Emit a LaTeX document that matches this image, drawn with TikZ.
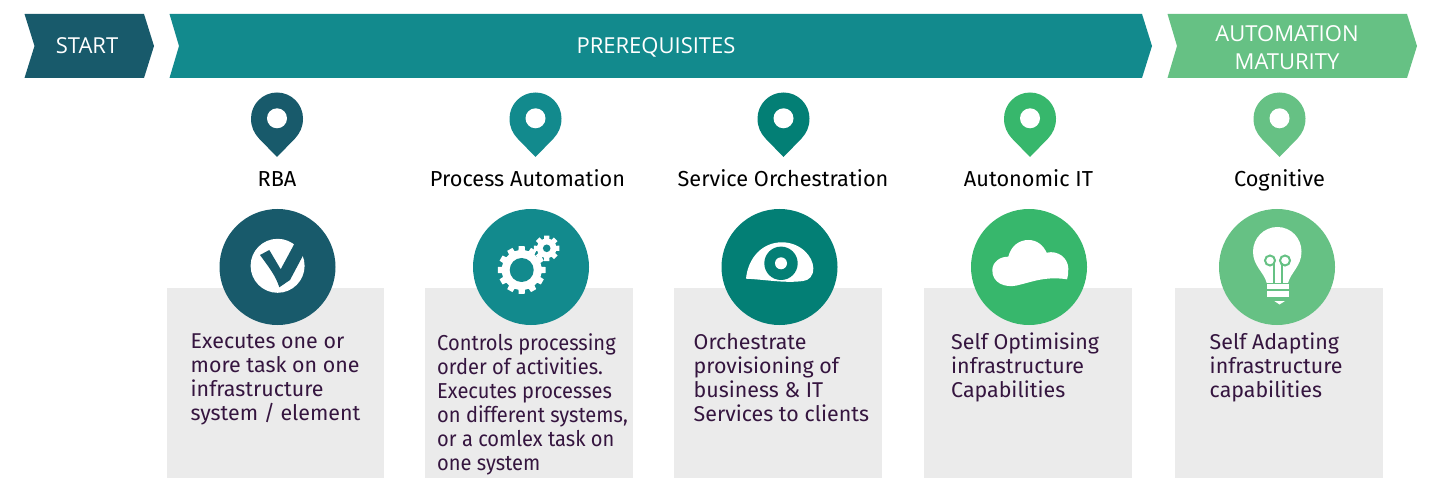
\documentclass[tikz,border=0pt]{standalone}
\usepackage{fontspec}
\setmainfont{Fira Sans}
\newfontfamily\headfont{Open Sans}
\newfontfamily\narrowbody[FakeStretch=0.93]{Fira Sans}
\definecolor{cA}{HTML}{185A6B}
\definecolor{cB}{HTML}{128A8D}
\definecolor{cC}{HTML}{037F75}
\definecolor{cD}{HTML}{37B76C}
\definecolor{cE}{HTML}{66C184}
\definecolor{boxgray}{HTML}{EBEBEB}
\definecolor{bodytext}{HTML}{35153F}
\tikzset{
  x=1pt,y=-1pt,
  head/.style={text=white,font=\headfont\fontsize{22}{28}\selectfont,align=center,inner sep=0pt},
  headline/.style={head,anchor=base},
  stage/.style={text=black,font=\fontsize{21.7}{24}\selectfont,inner sep=0pt,anchor=base},
  disc/.style={circle,minimum size=116pt,inner sep=0pt},
  panel/.style={fill=boxgray,draw=none},
  desc/.style={text=bodytext,font=\fontsize{21.4}{24}\selectfont,align=left,anchor=north west,inner sep=0pt},
  descnarrow/.style={desc,font=\narrowbody\fontsize{21.6}{24}\selectfont},
}
\newcommand{\pin}[3]{% x, color, name
  \fill[#2] (#1-26,118.5) arc[start angle=180,end angle=360,radius=26]
     .. controls (#1+26,127) and (#1+23,133) .. (#1+18,138.5)
     -- (#1,157) -- (#1-18,138.5)
     .. controls (#1-23,133) and (#1-26,127) .. (#1-26,118.5) -- cycle;
  \node[circle,fill=white,minimum size=20pt,inner sep=0pt] (#3) at (#1,118.3) {};
}
\newcommand{\gearshape}[6]{% cx,cy,rOuter,rRoot,teeth,halfwidth deg
  \fill[white] \foreach \k in {1,...,#5} {
     \pgfextra{\pgfmathsetmacro{\aa}{360/#5*\k-#6*1.25}\pgfmathsetmacro{\ab}{360/#5*\k-#6*0.95}\pgfmathsetmacro{\ac}{360/#5*\k+#6*0.95}\pgfmathsetmacro{\ad}{360/#5*\k+#6*1.25}}
     \ifnum\k=1 (#1+#4*cos \aa, #2+#4*sin \aa)\else -- (#1+#4*cos \aa, #2+#4*sin \aa)\fi
     -- (#1+#3*cos \ab, #2+#3*sin \ab) -- (#1+#3*cos \ac, #2+#3*sin \ac) -- (#1+#4*cos \ad, #2+#4*sin \ad)
  } -- cycle;
}
\begin{document}
\begin{tikzpicture}
\useasboundingbox (0,0) rectangle (1429,478);
% banners
\fill[cA] (24.5,14) -- (144,14) -- (154,46) -- (144,78) -- (24.5,78) -- (34.5,46) -- cycle;
\fill[cB] (169.5,14) -- (1142,14) -- (1152,46) -- (1142,78) -- (169.5,78) -- (179,46) -- cycle;
\fill[cE] (1167.5,14) -- (1407,14) -- (1417,46) -- (1407,78) -- (1167.5,78) -- (1177,46) -- cycle;
\node[headline] (start) at (87,54) {START};
\node[headline] (prereq) at (656,54) {PREREQUISITES};
\node[head] (maturity) at (1287,47.5) {AUTOMATION\\MATURITY};
% pins
\pin{277}{cA}{p1}
\pin{535.5}{cB}{p2}
\pin{783.5}{cC}{p3}
\pin{1030}{cD}{p4}
\pin{1279.5}{cE}{p5}
% stage labels
\node[stage] (s1) at (277,187) {RBA};
\node[stage] (s2) at (527.5,187) {Process Automation};
\node[stage] (s3) at (783,187) {Service Orchestration};
\node[stage] (s4) at (1028.5,187) {Autonomic IT};
\node[stage] (s5) at (1279.5,187) {Cognitive};
% panels
\fill[panel] (167,288) rectangle (384,478);
\fill[panel] (425,288) rectangle (633,478);
\fill[panel] (674,288) rectangle (882,478);
\fill[panel] (924,288) rectangle (1132,478);
\fill[panel] (1175,288) rectangle (1383,478);
% discs
\node[disc,fill=cA] (d1) at (277.5,267) {};
\node[disc,fill=cB] (d2) at (531,267) {};
\node[disc,fill=cC] (d3) at (779.5,267) {};
\node[disc,fill=cD] (d4) at (1029,267) {};
\node[disc,fill=cE] (d5) at (1277,267) {};
% tick icon
\fill[white] (277.6,265.8) circle[radius=27];
\fill[cA] (260,255) -- (269.3,250) -- (280.7,269.3) -- (295,242.7) -- (304.5,252.7) -- (290,280) -- (279.3,287.3)
   .. controls (276,276) and (268,266) .. (260,255) -- cycle;
% gear icon
\gearshape{521.7}{270}{24}{20}{12}{7.5}
\fill[cB] (521.7,270) circle[radius=12];
\gearshape{546.7}{248.3}{13}{9.8}{8}{12}
\fill[cB] (546.7,248.3) circle[radius=3.8];
% eye icon
\fill[white] (746,278.7) .. controls (748,258) and (762,242.3) .. (782,242.3)
   .. controls (800,242.3) and (813,256) .. (813.3,268)
   .. controls (813.5,276) and (809,280.5) .. (803,281)
   .. controls (785,283.5) and (765,279.5) .. (746,278.7) -- cycle;
\fill[cC] (781,263.3) circle[radius=16.7];
\fill[white] (781,263.3) circle[radius=6];
% cloud icon
\fill[white] (1067,279.3) .. controls (1045,276) and (1032,282) .. (1016.7,285.5)
   .. controls (1005,288) and (992,283) .. (992.3,270)
   .. controls (992.5,262) and (1000,256.5) .. (1008.3,256.7)
   .. controls (1011,246) and (1019,240) .. (1028.3,240)
   .. controls (1037,240) and (1043,245) .. (1046.7,252.7)
   .. controls (1058,250) and (1068,258) .. (1068.3,268.3)
   .. controls (1068.5,272) and (1068,276) .. (1067,279.3) -- cycle;
% bulb icon
\fill[white] (1266.7,283) .. controls (1264,272) and (1253,266) .. (1253,251.7)
   .. controls (1253,238) and (1264,227) .. (1277.3,227)
   .. controls (1291,227) and (1301.5,238) .. (1301.5,251.7)
   .. controls (1301.5,266) and (1291,272) .. (1288,283) -- cycle;
\draw[cE,line width=2pt] (1273.5,283) -- (1273.5,263) (1281.5,283) -- (1281.5,263);
\draw[cE,line width=2pt] (1270,260.5) circle[radius=5] (1285,260.5) circle[radius=5];
\fill[white] (1266.7,284.5) rectangle (1289,289.3);
\fill[white] (1266.7,291.2) rectangle (1289,296.7);
\fill[white] (1274.3,301) -- (1285,301) -- (1279.5,304.5) -- cycle;
% descriptions
\node[desc] (t1) at (190.5,333.5) {Executes one or\\more task on one\\infrastructure\\system / element};
\node[descnarrow] (t2) at (437,333) {Controls processing\\order of activities.\\Executes processes\\on different systems,\\or a comlex task on\\one system};
\node[desc] (t3) at (693.5,333.5) {Orchestrate\\provisioning of\\business \& IT\\Services to clients};
\node[desc] (t4) at (951,333) {Self Optimising\\infrastructure\\Capabilities};
\node[desc] (t5) at (1209.5,333) {Self Adapting\\infrastructure\\capabilities};
\end{tikzpicture}
\end{document}
